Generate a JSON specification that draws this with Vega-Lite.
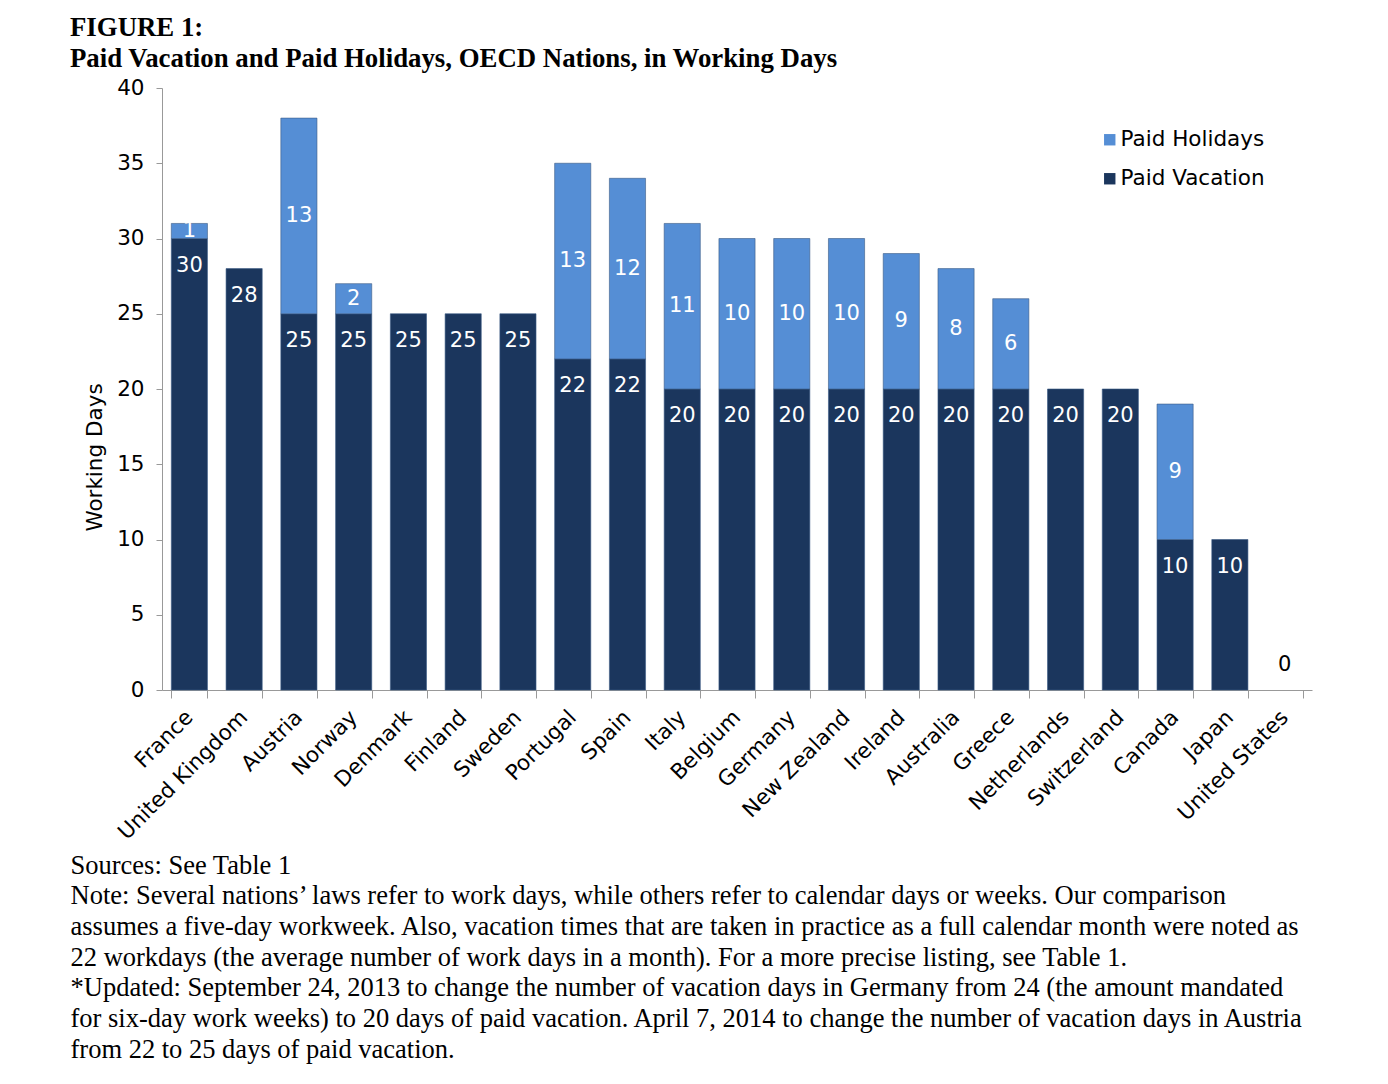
{
  "$schema": "https://vega.github.io/schema/vega-lite/v6.json",
  "autosize": {"type": "none"},
  "padding": {"left": 162, "top": 88, "right": 76, "bottom": 394},
  "width": 1150,
  "height": 602,
  "background": "white",
  "config": {"view": {"stroke": null}},
  "title": {
    "text": ["FIGURE 1:", "Paid Vacation and Paid Holidays, OECD Nations, in Working Days"],
    "anchor": "start",
    "frame": "group",
    "dx": -92,
    "offset": 4,
    "font": "Liberation Serif",
    "fontSize": 26.8,
    "fontWeight": "bold",
    "color": "black",
    "lineHeight": 31
  },
  "data": {
    "values": [
      {"country": "France", "type": "Paid Vacation", "days": 30},
      {"country": "France", "type": "Paid Holidays", "days": 1},
      {"country": "United Kingdom", "type": "Paid Vacation", "days": 28},
      {"country": "United Kingdom", "type": "Paid Holidays", "days": 0},
      {"country": "Austria", "type": "Paid Vacation", "days": 25},
      {"country": "Austria", "type": "Paid Holidays", "days": 13},
      {"country": "Norway", "type": "Paid Vacation", "days": 25},
      {"country": "Norway", "type": "Paid Holidays", "days": 2},
      {"country": "Denmark", "type": "Paid Vacation", "days": 25},
      {"country": "Denmark", "type": "Paid Holidays", "days": 0},
      {"country": "Finland", "type": "Paid Vacation", "days": 25},
      {"country": "Finland", "type": "Paid Holidays", "days": 0},
      {"country": "Sweden", "type": "Paid Vacation", "days": 25},
      {"country": "Sweden", "type": "Paid Holidays", "days": 0},
      {"country": "Portugal", "type": "Paid Vacation", "days": 22},
      {"country": "Portugal", "type": "Paid Holidays", "days": 13},
      {"country": "Spain", "type": "Paid Vacation", "days": 22},
      {"country": "Spain", "type": "Paid Holidays", "days": 12},
      {"country": "Italy", "type": "Paid Vacation", "days": 20},
      {"country": "Italy", "type": "Paid Holidays", "days": 11},
      {"country": "Belgium", "type": "Paid Vacation", "days": 20},
      {"country": "Belgium", "type": "Paid Holidays", "days": 10},
      {"country": "Germany", "type": "Paid Vacation", "days": 20},
      {"country": "Germany", "type": "Paid Holidays", "days": 10},
      {"country": "New Zealand", "type": "Paid Vacation", "days": 20},
      {"country": "New Zealand", "type": "Paid Holidays", "days": 10},
      {"country": "Ireland", "type": "Paid Vacation", "days": 20},
      {"country": "Ireland", "type": "Paid Holidays", "days": 9},
      {"country": "Australia", "type": "Paid Vacation", "days": 20},
      {"country": "Australia", "type": "Paid Holidays", "days": 8},
      {"country": "Greece", "type": "Paid Vacation", "days": 20},
      {"country": "Greece", "type": "Paid Holidays", "days": 6},
      {"country": "Netherlands", "type": "Paid Vacation", "days": 20},
      {"country": "Netherlands", "type": "Paid Holidays", "days": 0},
      {"country": "Switzerland", "type": "Paid Vacation", "days": 20},
      {"country": "Switzerland", "type": "Paid Holidays", "days": 0},
      {"country": "Canada", "type": "Paid Vacation", "days": 10},
      {"country": "Canada", "type": "Paid Holidays", "days": 9},
      {"country": "Japan", "type": "Paid Vacation", "days": 10},
      {"country": "Japan", "type": "Paid Holidays", "days": 0},
      {"country": "United States", "type": "Paid Vacation", "days": 0},
      {"country": "United States", "type": "Paid Holidays", "days": 0}
    ]
  },
  "encoding": {
    "x": {
      "field": "country",
      "type": "nominal",
      "sort": null,
      "scale": {"paddingInner": 0.34, "paddingOuter": 0.17},
      "axis": {
        "labelAngle": -45,
        "labelAlign": "right",
        "labelBaseline": "middle",
        "labelFont": "DejaVu Sans",
        "labelFontSize": 21.5,
        "labelColor": "black",
        "labelPadding": 16,
        "labelOverlap": false,
        "labelFlush": false,
        "tickBand": "extent",
        "tickColor": "#999999",
        "tickSize": 8,
        "domainColor": "#999999",
        "title": [
          "Sources: See Table 1",
          "Note: Several nations’ laws refer to work days, while others refer to calendar days or weeks. Our comparison",
          "assumes a five-day workweek. Also, vacation times that are taken in practice as a full calendar month were noted as",
          "22 workdays (the average number of work days in a month). For a more precise listing, see Table 1.",
          "*Updated: September 24, 2013 to change the number of vacation days in Germany from 24 (the amount mandated",
          "for six-day work weeks) to 20 days of paid vacation. April 7, 2014 to change the number of vacation days in Austria",
          "from 22 to 25 days of paid vacation."
        ],
        "titleFont": "Liberation Serif",
        "titleFontSize": 26.5,
        "titleFontWeight": "normal",
        "titleColor": "black",
        "titleAlign": "left",
        "titleAnchor": "start",
        "titleBaseline": "top",
        "titleX": -92,
        "titleY": 162,
        "titleLineHeight": 30.7
      }
    }
  },
  "layer": [
    {
      "transform": [{"filter": "datum.days > 0"}],
      "mark": {"type": "bar", "stroke": "#3a5a85", "strokeWidth": 0.6},
      "encoding": {
        "y": {
          "field": "days",
          "type": "quantitative",
          "stack": "zero",
          "scale": {"domain": [0, 40]},
          "axis": {
            "values": [0, 5, 10, 15, 20, 25, 30, 35, 40],
            "grid": false,
            "labelFont": "DejaVu Sans",
            "labelFontSize": 21.5,
            "labelColor": "black",
            "labelPadding": 12,
            "tickColor": "#999999",
            "tickSize": 6,
            "domainColor": "#999999",
            "title": "Working Days",
            "titleFont": "DejaVu Sans",
            "titleFontSize": 21.5,
            "titleFontWeight": "normal",
            "titleColor": "black",
            "titleX": -56,
            "titleY": 369
          }
        },
        "color": {
          "field": "type",
          "type": "nominal",
          "scale": {"domain": ["Paid Holidays", "Paid Vacation"], "range": ["#558ed5", "#1b365d"]},
          "legend": {
            "title": null,
            "orient": "none",
            "legendX": 937,
            "legendY": 41,
            "symbolType": "square",
            "symbolSize": 130,
            "symbolStrokeWidth": 0,
            "labelFont": "DejaVu Sans",
            "labelFontSize": 21.5,
            "labelColor": "black",
            "labelOffset": 0,
            "rowPadding": 16,
            "padding": 0
          }
        },
        "order": {"field": "type", "sort": "descending"}
      }
    },
    {
      "mark": {"type": "text", "color": "white", "font": "DejaVu Sans", "fontSize": 21, "baseline": "middle"},
      "encoding": {
        "y": {"field": "days", "type": "quantitative", "stack": "zero", "bandPosition": 0.5},
        "detail": {"field": "type"},
        "order": {"field": "type", "sort": "descending"},
        "text": {
          "condition": {"test": "datum.type === 'Paid Holidays' && datum.days > 0", "field": "days"},
          "value": ""
        }
      }
    },
    {
      "transform": [{"filter": "datum.type === 'Paid Vacation' && datum.days > 0"}],
      "mark": {"type": "text", "color": "white", "font": "DejaVu Sans", "fontSize": 21, "baseline": "middle", "dy": 27},
      "encoding": {
        "y": {"field": "days", "type": "quantitative", "stack": null},
        "text": {"field": "days"}
      }
    },
    {
      "transform": [{"filter": "datum.country === 'United States' && datum.type === 'Paid Vacation'"}],
      "mark": {"type": "text", "color": "black", "font": "DejaVu Sans", "fontSize": 21, "baseline": "middle", "dy": -25},
      "encoding": {
        "y": {"field": "days", "type": "quantitative", "stack": null},
        "text": {"field": "days"}
      }
    }
  ]
}
